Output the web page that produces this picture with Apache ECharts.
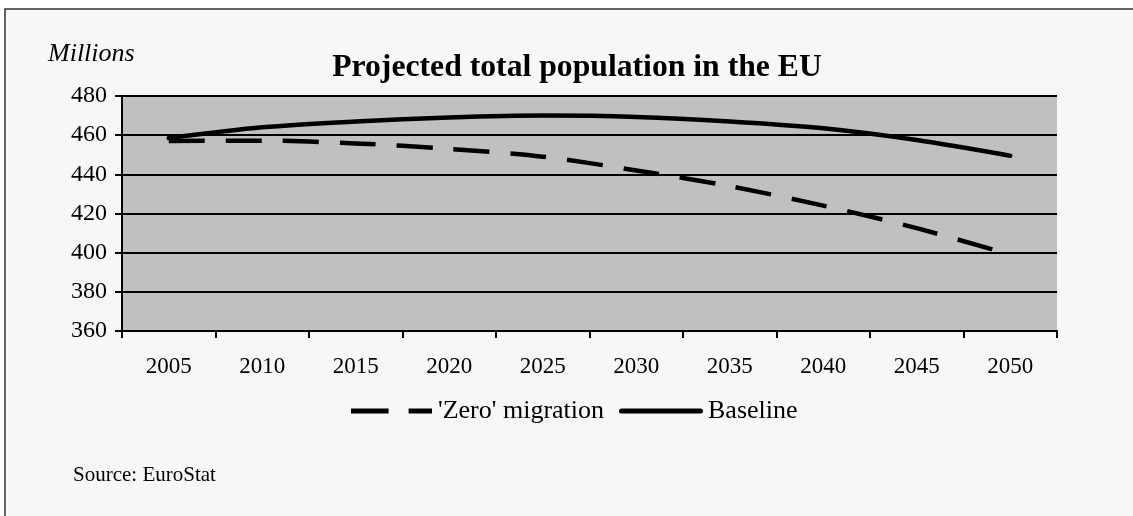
<!DOCTYPE html>
<html>
<head>
<meta charset="utf-8">
<script src="https://cdn.jsdelivr.net/npm/echarts@6/dist/echarts.min.js"></script>
<style>
html,body{margin:0;padding:0;background:#ffffff;}
#chart{width:1133px;height:516px;}
</style>
</head>
<body>
<div id="chart"></div>
<script>
const years = ['2005','2010','2015','2020','2025','2030','2035','2040','2045','2050'];
const zeroMigration = [457, 457.2, 455.8, 453, 449, 442, 434, 424, 412.5, 399];
const baseline = [458.5, 464, 467, 469, 470, 469.3, 467, 463.5, 457.5, 449.5];
const yTicks = {min: 360, max: 480, interval: 20};
const seriesNames = ["'Zero' migration", 'Baseline'];

const FONT = '"Liberation Serif","DejaVu Serif",serif';
const chart = echarts.init(document.getElementById('chart'));
chart.setOption({
  animation: false,
  backgroundColor: '#ffffff',
  graphic: [
    {type: 'rect', z: -10, shape: {x: 5, y: 9, width: 1200, height: 600},
     style: {fill: '#f7f7f7', stroke: '#333333', lineWidth: 1.5}},
    {type: 'text', left: 48, top: 41, style: {text: 'Millions', font: 'italic 26px ' + FONT, fill: '#000'}},
    {type: 'text', left: 73, top: 465, style: {text: 'Source: EuroStat', font: '21px ' + FONT, fill: '#000'}}
  ],
  title: {
    text: 'Projected total population in the EU',
    left: 572, top: 47, textAlign: 'center',
    textStyle: {fontFamily: FONT, fontWeight: 'bold', fontSize: 31.7, color: '#000'}
  },
  legend: [
    {
      top: 398, left: 351, padding: 0, itemWidth: 81, itemHeight: 5, itemGap: 0,
      icon: 'path://M0,0H37.6V5H0Z M57.6,0H81V5H57.6Z',
      textStyle: {fontFamily: FONT, fontSize: 26, color: '#000', padding: [0,0,0,1]},
      data: [{name: seriesNames[0]}]
    },
    {
      top: 398, left: 619, padding: 0, itemWidth: 84, itemHeight: 5, itemGap: 0,
      icon: 'path://M2.5,0H81.5A2.5,2.5,0,0,1,81.5,5H2.5A2.5,2.5,0,0,1,2.5,0Z',
      textStyle: {fontFamily: FONT, fontSize: 26, color: '#000', padding: [0,0,0,0]},
      data: [{name: seriesNames[1]}]
    }
  ],
  grid: {left: 122, right: 76, top: 96, bottom: 185, show: true, backgroundColor: '#c0c0c0', borderWidth: 0},
  xAxis: {
    type: 'category', data: years, boundaryGap: true,
    axisLine: {lineStyle: {color: '#000', width: 2}},
    axisTick: {show: true, length: 7, lineStyle: {color: '#000', width: 2}},
    axisLabel: {fontFamily: FONT, fontSize: 23, color: '#000', margin: 24}
  },
  yAxis: {
    type: 'value', min: yTicks.min, max: yTicks.max, interval: yTicks.interval,
    axisLine: {show: true, lineStyle: {color: '#000', width: 2}},
    axisTick: {show: true, length: 7, lineStyle: {color: '#000', width: 2}},
    axisLabel: {fontFamily: FONT, fontSize: 24, color: '#000', margin: 15},
    splitLine: {show: true, lineStyle: {color: '#000', width: 2}}
  },
  series: [
    {name: seriesNames[0], type: 'line', data: zeroMigration, smooth: 0.3,
     symbol: 'none', lineStyle: {color: '#000', width: 4.5, type: [36, 21]}, itemStyle: {color: '#000'}},
    {name: seriesNames[1], type: 'line', data: baseline, smooth: 0.3,
     symbol: 'none', lineStyle: {color: '#000', width: 4.5, cap: 'round'}, itemStyle: {color: '#000'}}
  ]
});
</script>
</body>
</html>
